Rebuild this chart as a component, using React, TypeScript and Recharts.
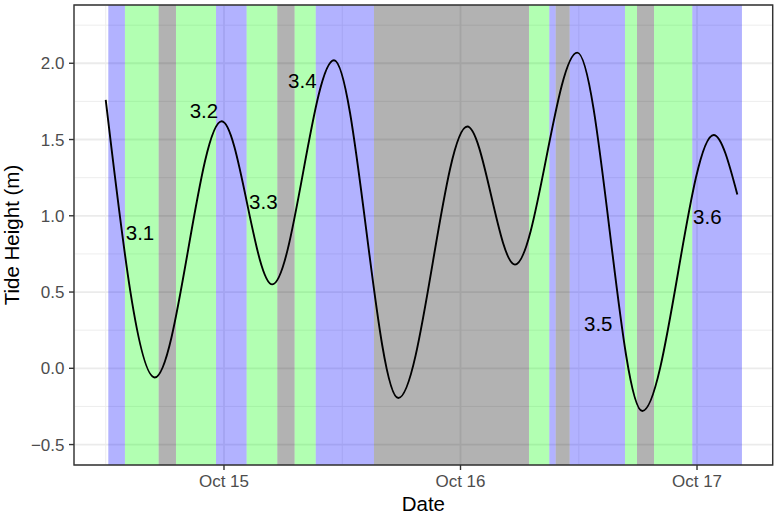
import {
  ComposedChart,
  Line,
  Scatter,
  XAxis,
  YAxis,
  CartesianGrid,
  ReferenceArea,
} from "recharts";

// ── Data ──────────────────────────────────────────────────────────────────────
// time is hours since Oct 14 00:00

const tideHours = [12.0, 16.97, 23.77, 28.9, 35.16, 41.69, 48.69, 53.53, 59.85, 66.45, 73.69, 76.09];
const tideHeights = [1.76, -0.06, 1.62, 0.55, 2.02, -0.195, 1.585, 0.68, 2.07, -0.28, 1.53, 1.14];

const bandEdges = [
  12.26, 13.95, 17.37, 19.13, 23.19, 26.3, 29.41, 31.17, 33.31, 39.22,
  54.95, 57.01, 57.66, 59.08, 64.69, 65.91, 67.64, 71.52, 76.56,
];
const bandKinds = [
  "blue", "green", "grey", "green", "blue", "green", "grey", "green", "blue",
  "grey", "green", "blue", "grey", "blue", "green", "grey", "green", "blue",
];

const labelNames = ["3.1", "3.2", "3.3", "3.4", "3.5", "3.6"];
const labelHours = [15.48, 21.97, 27.99, 31.95, 61.98, 73.05];
const labelHeights = [0.893, 1.69, 1.093, 1.89, 0.297, 0.995];

const xTicks = [24, 48, 72];
const xTickLabels = ["Oct 15", "Oct 16", "Oct 17"];
const xMinor = [12, 36, 60];
const yTicks = [-0.5, 0, 0.5, 1, 1.5, 2];
const yMinor = [-0.25, 0.25, 0.75, 1.25, 1.75, 2.25];

// ── Styling ───────────────────────────────────────────────────────────────────

const X_DOMAIN: [number, number] = [8.78, 79.68];
const Y_DOMAIN: [number, number] = [-0.634, 2.382];
const FONT = "'Liberation Sans', Arial, Helvetica, sans-serif";
const BAND_FILL: Record<string, string> = {
  blue: "#0000ff",
  green: "#00ff00",
  grey: "#000000",
};

const tideData = tideHours.map((hour, i) => ({ hour, height: tideHeights[i] }));
const labelData = labelNames.map((label, i) => ({
  label,
  hour: labelHours[i],
  height: labelHeights[i],
}));

const fmtY = (v: number) => (v < 0 ? `\u2212${Math.abs(v).toFixed(1)}` : v.toFixed(1));
const fmtX = (v: number) => xTickLabels[xTicks.indexOf(v)] ?? "";

function LabelText(props: any) {
  const { cx, cy, payload } = props;
  return (
    <text
      x={cx}
      y={cy}
      textAnchor="middle"
      dominantBaseline="central"
      fontSize={20.5}
      fontFamily={FONT}
      fill="#000"
    >
      {payload.label}
    </text>
  );
}

function YTitle(props: any) {
  const vb = props.viewBox || { x: 0, y: 5, width: 74, height: 460 };
  const cy = vb.y + vb.height / 2;
  return (
    <text
      transform={`translate(18.5, ${cy}) rotate(-90)`}
      textAnchor="middle"
      fontSize={20.5}
      fontFamily={FONT}
      fill="#000"
    >
      Tide Height (m)
    </text>
  );
}

export default function App() {
  return (
    <div style={{ position: "absolute", left: 0, top: 0, background: "#fff" }}>
      <ComposedChart
        width={774}
        height={522}
        margin={{ top: 5, right: 1.3, left: 0, bottom: 0 }}
      >
        {/* minor then major grid, both under the bands */}
        <CartesianGrid
          stroke="#ebebeb"
          strokeWidth={0.9}
          horizontalValues={yMinor}
          verticalValues={xMinor}
        />
        <CartesianGrid stroke="#ebebeb" strokeWidth={1.8} />
        <XAxis
          dataKey="hour"
          type="number"
          domain={X_DOMAIN}
          ticks={xTicks}
          tickFormatter={fmtX}
          allowDataOverflow
          height={57}
          axisLine={false}
          tickSize={5}
          tickMargin={4.5}
          tickLine={{ stroke: "#333", strokeWidth: 1.4 }}
          tick={{ fontSize: 17, fill: "#4d4d4d", fontFamily: FONT }}
          label={{
            value: "Date",
            position: "insideBottom",
            offset: 11.5,
            fontSize: 20.5,
            fill: "#000",
            fontFamily: FONT,
          }}
        />
        <YAxis
          dataKey="height"
          type="number"
          domain={Y_DOMAIN}
          ticks={yTicks}
          tickFormatter={fmtY}
          allowDataOverflow
          width={74}
          axisLine={false}
          tickSize={5}
          tickMargin={4.5}
          tickLine={{ stroke: "#333", strokeWidth: 1.4 }}
          tick={{ fontSize: 17, fill: "#4d4d4d", fontFamily: FONT }}
          label={<YTitle />}
        />
        {bandKinds.map((kind, i) => (
          <ReferenceArea
            key={`band${i}`}
            x1={bandEdges[i]}
            x2={bandEdges[i + 1]}
            fill={BAND_FILL[kind]}
            fillOpacity={0.3}
            stroke="none"
          />
        ))}
        <Line
          data={tideData}
          dataKey="height"
          type="monotone"
          stroke="#000"
          strokeWidth={1.9}
          dot={false}
          activeDot={false}
          isAnimationActive={false}
        />
        <Scatter
          data={labelData}
          dataKey="height"
          shape={<LabelText />}
          isAnimationActive={false}
        />
        <ReferenceArea
          x1={X_DOMAIN[0]}
          x2={X_DOMAIN[1]}
          y1={Y_DOMAIN[0]}
          y2={Y_DOMAIN[1]}
          fill="none"
          stroke="#333"
          strokeWidth={1.4}
        />
      </ComposedChart>
    </div>
  );
}
